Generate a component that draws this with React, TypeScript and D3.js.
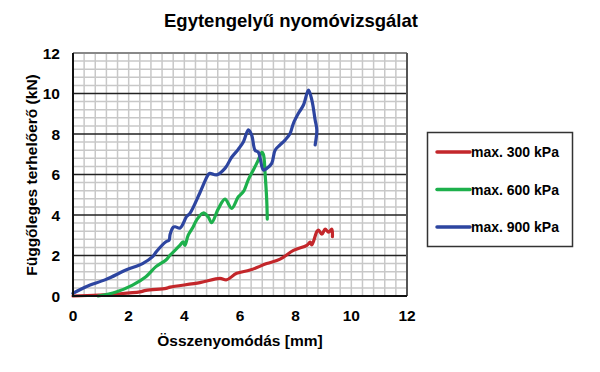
import { useEffect, useRef } from "react";
import * as d3 from "d3";

// measured curves (x: mm, y: kN)
const x300 = [0, 1.55, 2.4, 2.62, 3.34, 3.49, 4.56, 5.28, 5.52, 5.88, 6.36, 6.96, 7.44, 7.92, 8.4, 8.52, 8.58, 8.76, 8.82, 8.94, 9.06, 9.18, 9.3, 9.32];
const y300 = [0, 0.1, 0.2, 0.28, 0.38, 0.44, 0.66, 0.87, 0.8, 1.12, 1.28, 1.6, 1.82, 2.25, 2.5, 2.66, 2.52, 3.18, 3.26, 3.05, 3.3, 3.15, 3.3, 2.93];

const x600 = [0.9, 1.55, 2.14, 2.62, 2.98, 3.34, 3.49, 3.84, 3.96, 4.02, 4.14, 4.32, 4.44, 4.68, 4.86, 4.98, 5.22, 5.46, 5.7, 5.94, 6.12, 6.3, 6.48, 6.66, 6.78, 6.84, 6.9, 6.96, 6.98];
const y600 = [0, 0.2, 0.54, 0.95, 1.45, 1.78, 2.02, 2.5, 2.68, 2.5, 3.01, 3.42, 3.75, 4.1, 3.9, 3.62, 4.3, 4.78, 4.33, 4.9, 5.15, 5.75, 6.22, 6.72, 7.1, 7.0, 6.06, 4.74, 3.8];

const x900 = [0, 0.47, 1.19, 1.9, 2.5, 2.86, 3.0, 3.34, 3.45, 3.49, 3.6, 3.67, 3.85, 4.08, 4.2, 4.56, 4.86, 4.92, 5.16, 5.46, 5.7, 5.94, 6.12, 6.3, 6.42, 6.54, 6.66, 6.84, 6.96, 7.14, 7.26, 7.44, 7.62, 7.8, 7.92, 8.1, 8.28, 8.46, 8.58, 8.7, 8.76, 8.7];
const y900 = [0.13, 0.46, 0.82, 1.28, 1.6, 1.94, 2.2, 2.68, 2.75, 3.05, 3.4, 3.42, 3.36, 3.92, 4.08, 5.1, 6.0, 6.06, 5.98, 6.3, 6.85, 7.25, 7.6, 8.2, 7.95, 7.2, 7.1, 6.22, 6.3, 6.55, 7.2, 7.46, 7.7, 8.03, 8.53, 9.02, 9.43, 10.17, 9.68, 8.69, 8.2, 7.46];

const seriesNames = ["max. 300 kPa", "max. 600 kPa", "max. 900 kPa"];
const seriesColors = ["#c3272b", "#1db04c", "#2d45a0"];
const xTicks = [0, 2, 4, 6, 8, 10, 12];
const yTicks = [0, 2, 4, 6, 8, 10, 12];

const App = () => {
  const ref = useRef<SVGSVGElement>(null);

  useEffect(() => {
    const svg = d3.select(ref.current);
    svg.selectAll("*").remove();
    const font = "Liberation Sans, Arial, sans-serif";

    const x = d3.scaleLinear().domain([0, 12]).range([73, 407]);
    const y = d3.scaleLinear().domain([0, 12]).range([296, 53]);

    svg.append("rect").attr("width", 600).attr("height", 372).attr("fill", "#fff");

    // minor grid (0.4 step)
    const minor = d3.range(1, 30).map((i) => i * 0.4);
    const g = svg.append("g");
    g.selectAll(".vx")
      .data(minor)
      .enter()
      .append("line")
      .attr("x1", (d: number) => x(d))
      .attr("x2", (d: number) => x(d))
      .attr("y1", y(0))
      .attr("y2", y(12))
      .attr("stroke", "#c8c8c8")
      .attr("stroke-width", 1.5);
    g.selectAll(".hy")
      .data(minor.filter((d) => Math.abs(d / 2 - Math.round(d / 2)) > 0.01))
      .enter()
      .append("line")
      .attr("x1", x(0))
      .attr("x2", x(12))
      .attr("y1", (d: number) => y(d))
      .attr("y2", (d: number) => y(d))
      .attr("stroke", "#c8c8c8")
      .attr("stroke-width", 1.5);
    // major horizontal lines
    g.selectAll(".mj")
      .data([2, 4, 6, 8, 10])
      .enter()
      .append("line")
      .attr("x1", x(0))
      .attr("x2", x(12))
      .attr("y1", (d: number) => y(d))
      .attr("y2", (d: number) => y(d))
      .attr("stroke", "#222")
      .attr("stroke-width", 1.5);

    // frame
    svg.append("line").attr("x1", x(0)).attr("x2", x(12)).attr("y1", y(12)).attr("y2", y(12)).attr("stroke", "#888").attr("stroke-width", 2);
    svg.append("line").attr("x1", x(12)).attr("x2", x(12)).attr("y1", y(12)).attr("y2", y(0)).attr("stroke", "#555").attr("stroke-width", 2);

    // curves
    const line = d3
      .line<[number, number]>()
      .x((d) => x(d[0]))
      .y((d) => y(d[1]))
      .curve(d3.curveCatmullRom.alpha(0.5));
    const sets = [
      [x300, y300],
      [x600, y600],
      [x900, y900],
    ];
    sets.forEach(([xs, ys], i) => {
      const pts: [number, number][] = xs.map((v, j) => [v, ys[j]]);
      svg
        .append("path")
        .attr("d", line(pts))
        .attr("fill", "none")
        .attr("stroke", seriesColors[i])
        .attr("stroke-width", 3.2)
        .attr("stroke-linejoin", "round")
        .attr("stroke-linecap", "round");
    });

    // axes
    svg.append("line").attr("x1", x(0)).attr("x2", x(0)).attr("y1", y(12)).attr("y2", y(0)).attr("stroke", "#111").attr("stroke-width", 2);
    svg.append("line").attr("x1", x(0) - 1).attr("x2", x(12)).attr("y1", y(0)).attr("y2", y(0)).attr("stroke", "#111").attr("stroke-width", 2);

    svg
      .selectAll(".yt")
      .data(yTicks)
      .enter()
      .append("text")
      .attr("x", 60)
      .attr("y", (d: number) => y(d))
      .attr("dy", "0.36em")
      .attr("text-anchor", "end")
      .attr("font-family", font)
      .attr("font-weight", "bold")
      .attr("font-size", 15.5)
      .text((d: number) => d);
    svg
      .selectAll(".xt")
      .data(xTicks)
      .enter()
      .append("text")
      .attr("x", (d: number) => x(d))
      .attr("y", 321)
      .attr("text-anchor", "middle")
      .attr("font-family", font)
      .attr("font-weight", "bold")
      .attr("font-size", 15.5)
      .text((d: number) => d);

    svg.append("text").attr("x", 291).attr("y", 27).attr("text-anchor", "middle").attr("font-family", font).attr("font-weight", "bold").attr("font-size", 18.5).text("Egytengelyű nyomóvizsgálat");
    svg.append("text").attr("x", 240).attr("y", 346).attr("text-anchor", "middle").attr("font-family", font).attr("font-weight", "bold").attr("font-size", 15.5).text("Összenyomódás  [mm]");
    svg
      .append("text")
      .attr("transform", "translate(37,175) rotate(-90)")
      .attr("text-anchor", "middle")
      .attr("font-family", font)
      .attr("font-weight", "bold")
      .attr("font-size", 15.5)
      .text("Függőleges terhelőerő (kN)");

    // legend
    svg.append("rect").attr("x", 427.5).attr("y", 132.5).attr("width", 145).attr("height", 114).attr("fill", "#fff").attr("stroke", "#333").attr("stroke-width", 1.5);
    seriesNames.forEach((name, i) => {
      const ly = 152 + i * 37.5;
      svg.append("line").attr("x1", 437).attr("x2", 470).attr("y1", ly).attr("y2", ly).attr("stroke", seriesColors[i]).attr("stroke-width", 3.5).attr("stroke-linecap", "round");
      svg.append("text").attr("x", 471).attr("y", ly).attr("dy", "0.36em").attr("font-family", font).attr("font-weight", "bold").attr("font-size", 14).text(name);
    });
  }, []);

  return (
    <div style={{ position: "absolute", left: 0, top: 0 }}>
      <svg ref={ref} width={600} height={372} style={{ display: "block" }} />
    </div>
  );
};

export default App;
